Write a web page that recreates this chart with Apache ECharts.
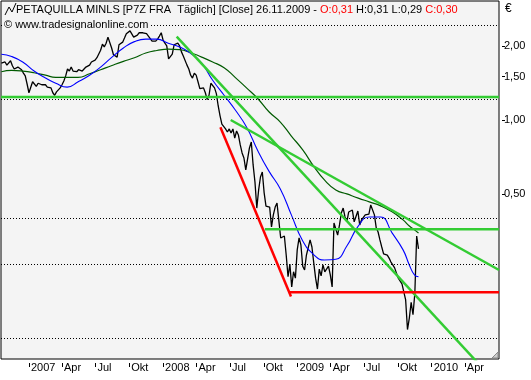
<!DOCTYPE html>
<html><head><meta charset="utf-8">
<script src="https://cdn.jsdelivr.net/npm/echarts@6/dist/echarts.min.js"></script>
<style>html,body{margin:0;padding:0;background:#fff}#c{width:531px;height:380px}</style>
</head><body><div id="c"></div>
<script>
// ---- data ----
const startDate = '2006-10-18';   // first daily close shown
const stepDays = 5;               // sampled every 5 calendar days
const closes = [
1.70,1.71,1.72,1.67,1.69,1.74,1.66,1.61,1.60,1.64,
1.61,1.60,1.55,1.51,1.40,1.29,1.30,1.43,1.44,1.37,
1.41,1.40,1.39,1.40,1.39,1.36,1.36,1.35,1.29,1.26,
1.30,1.32,1.35,1.39,1.44,1.51,1.61,1.58,1.64,1.58,
1.57,1.57,1.60,1.61,1.58,1.60,1.64,1.63,1.67,1.72,
1.74,1.75,1.79,1.79,1.92,2.03,1.98,2.05,2.17,2.15,
1.96,1.84,1.85,1.80,2.02,2.05,2.07,2.15,2.24,2.21,
2.30,2.26,2.17,2.17,2.21,2.26,2.24,2.26,2.28,2.24,
2.19,2.15,2.09,2.07,2.09,2.13,2.19,2.26,2.11,2.05,
2.00,1.77,1.80,1.85,2.02,2.05,2.05,2.00,1.89,1.82,
1.80,1.67,1.61,1.52,1.48,1.55,1.52,1.43,1.34,1.35,
1.35,1.29,1.21,1.26,1.41,1.40,1.35,1.28,1.14,1.04,
0.963,0.972,0.920,0.894,0.920,0.886,0.920,0.845,0.902,0.869,
0.792,0.735,0.701,0.627,0.620,0.770,0.814,0.657,0.560,0.439,
0.520,0.587,0.615,0.506,0.447,0.452,0.443,0.368,0.412,0.443,
0.460,0.452,0.332,0.326,0.338,0.283,0.231,0.260,0.210,0.242,
0.228,0.297,0.332,0.311,0.255,0.246,0.283,0.283,0.326,0.305,
0.263,0.228,0.206,0.248,0.233,0.258,0.242,0.244,0.255,0.235,
0.210,0.382,0.375,0.341,0.375,0.419,0.439,0.404,0.386,0.423,
0.419,0.431,0.386,0.393,0.427,0.375,0.393,0.389,0.412,0.419,
0.415,0.452,0.452,0.412,0.365,0.351,0.326,0.305,0.286,0.281,
0.283,0.275,0.265,0.258,0.251,0.239,0.228,0.231,0.216,0.218,
0.186,0.141,0.157,0.182,0.162,0.198,0.338,0.30
];
const maDates = ['2006-10-18','2006-11-15','2006-12-15',
'2007-01-15','2007-02-15','2007-03-15','2007-04-15','2007-05-15','2007-06-15','2007-07-15','2007-08-15','2007-09-15','2007-10-15','2007-11-15','2007-12-15',
'2008-01-15','2008-02-15','2008-03-15','2008-04-15','2008-05-15','2008-06-15','2008-07-15','2008-08-15','2008-09-15','2008-10-15','2008-11-15','2008-12-15',
'2009-01-15','2009-02-15','2009-03-15','2009-04-15','2009-05-15','2009-06-15','2009-07-15','2009-08-15','2009-09-15','2009-10-15','2009-11-01','2009-11-15','2009-11-26'];
const maShort = [
1.85,1.81,1.72,1.58,1.48,1.41,1.36,1.43,1.52,1.64,
1.80,1.96,2.08,2.13,2.13,2.05,1.98,1.87,1.70,1.45,
1.26,1.10,0.937,0.749,0.620,0.525,0.412,0.323,0.283,0.270,
0.272,0.308,0.371,0.404,0.404,0.348,0.297,0.258,0.235,0.231];
const maLong = [
1.57,1.59,1.58,1.555,1.52,1.49,1.49,1.49,1.54,1.60,
1.665,1.73,1.79,1.87,1.915,1.94,1.93,1.88,1.80,1.72,
1.63,1.49,1.35,1.22,1.08,0.981,0.861,0.756,0.645,0.571,
0.520,0.501,0.482,0.465,0.448,0.424,0.393,0.371,0.358,0.348];
const greenLines = [
  [['2006-10-17',1.24],['2010-07-03',1.24]],
  [['2008-10-04',0.36],['2010-07-03',0.36]],
  [['2008-02-07',2.18],['2010-05-15',0.100]],
  [['2008-07-03',1.00],['2010-07-03',0.246]]
];
const redLines = [
  [['2008-06-05',0.934],['2008-12-14',0.192]],
  [['2008-12-11',0.20],['2010-07-03',0.20]]
];
const yTickLabels = [2.00,1.50,1.00,0.50];
const gridValues = [2.42,1.21,0.40,0.26,0.13];
const xTickDates = ['2007-01-01','2007-04-01','2007-07-01','2007-10-01','2008-01-01','2008-04-01','2008-07-01','2008-10-01',
'2009-01-01','2009-04-01','2009-07-01','2009-10-01','2010-01-01','2010-04-01'];
const monthLabels = {3:'Apr',6:'Jul',9:'Okt'};
const xRange = ['2006-10-17','2010-07-03'];
const yRange = [0.1071, 3.041];

// ---- build ----
const DAY = 86400000;
function ts(s){const p=s.split('-').map(Number);return Date.UTC(p[0],p[1]-1,p[2]);}
const closeData = closes.map((v,i)=>[ts(startDate)+i*stepDays*DAY, v]);
const pairs = arr => arr.map(d=>[ts(d[0]), d[1]]);
const FONT = 'Liberation Sans';
const txt = '#000';

const series = [
  {type:'line', name:'close', data:closeData, showSymbol:false, symbol:'none', z:3,
   lineStyle:{color:'#000', width:1.3}, animation:false,
   markLine:{silent:true, symbol:['none','none'], label:{show:false}, animation:false,
     lineStyle:{type:[1,2], color:'#000', width:1},
     data: gridValues.map(v=>({yAxis:v}))}},
  {type:'line', name:'maLong', data:maDates.map((d,i)=>[ts(d), maLong[i]]), smooth:true, showSymbol:false, symbol:'none', z:4,
   lineStyle:{color:'#005a00', width:1.2}, animation:false},
  {type:'line', name:'maShort', data:maDates.map((d,i)=>[ts(d), maShort[i]]), smooth:true, showSymbol:false, symbol:'none', z:4,
   lineStyle:{color:'#0000ff', width:1.1}, animation:false}
];
greenLines.forEach(l=>series.push({type:'line', data:pairs(l), showSymbol:false, symbol:'none', z:5,
   lineStyle:{color:'#33cc33', width:2.5}, animation:false}));
redLines.forEach(l=>series.push({type:'line', data:pairs(l), showSymbol:false, symbol:'none', z:5,
   lineStyle:{color:'#ff0000', width:2.5}, animation:false}));

const chart = echarts.init(document.getElementById('c'), null, {renderer:'canvas'});
chart.setOption({
  animation:false,
  backgroundColor:'#fff',
  title:{left:16, top:4, padding:0,
    text:'{b|PETAQUILLA MINLS [P7Z FRA  Täglich] [Close] 26.11.2009 - }{r|O:0,31}{b| H:0,31 L:0,29 }{r|C:0,30}',
    textStyle:{fontFamily:FONT, fontSize:11, fontWeight:'normal',
      rich:{b:{color:'#000', fontFamily:FONT, fontSize:11}, r:{color:'#ff0000', fontFamily:FONT, fontSize:11}}}},
  grid:{left:1, right:32, top:1, bottom:21, show:true, borderColor:'#000', borderWidth:1, backgroundColor:'#f4f4f4'},
  xAxis:{type:'value', min:ts(xRange[0]), max:ts(xRange[1]), offset:4,
    axisLine:{show:false, onZero:false}, splitLine:{show:false},
    axisTick:{show:true, length:4, lineStyle:{color:'#000'}, customValues:xTickDates.map(ts)},
    axisLabel:{show:true, customValues:xTickDates.map(ts), align:'left', margin:-1, padding:[0,0,0,2],
      fontFamily:FONT, fontSize:11, color:txt, hideOverlap:false,
      formatter:function(v){const d=new Date(v);const m=d.getUTCMonth();return m===0?String(d.getUTCFullYear()):(monthLabels[m]||'');}}},
  yAxis:[
    {type:'log', logBase:10, min:yRange[0], max:yRange[1], show:false, position:'right', axisLine:{onZero:false}},
    {type:'value', position:'right', offset:3, min:Math.log(yRange[0]), max:Math.log(yRange[1]),
     axisLine:{show:false, onZero:false}, splitLine:{show:false},
     axisTick:{show:true, length:3, lineStyle:{color:'#000'}, customValues:yTickLabels.map(Math.log)},
     axisLabel:{show:true, customValues:yTickLabels.map(Math.log), margin:2, fontFamily:FONT, fontSize:11, color:txt,
       formatter:function(v){return Math.exp(v).toFixed(2).replace('.',',');}}}
  ],
  series: series,
  graphic:[
    {type:'polyline', z:10, shape:{points:[[5,15],[9,7],[12,12],[16,3]]}, style:{stroke:'#000', lineWidth:1, fill:null}},
    {type:'text', z:10, left:4, top:19, style:{text:'© www.tradesignalonline.com', fontFamily:FONT, fontSize:11, fill:'#000', backgroundColor:'#f4f4f4', padding:[0,1,0,0]}},
    {type:'text', z:10, left:505, top:3, style:{text:'€', fontFamily:FONT, fontSize:12, fill:'#000'}},
    {type:'polygon', z:10, shape:{points:[[498,352],[498,358],[492,358]]}, style:{fill:'#cccccc', stroke:'#888', lineWidth:1}}
  ]
});
</script></body></html>
